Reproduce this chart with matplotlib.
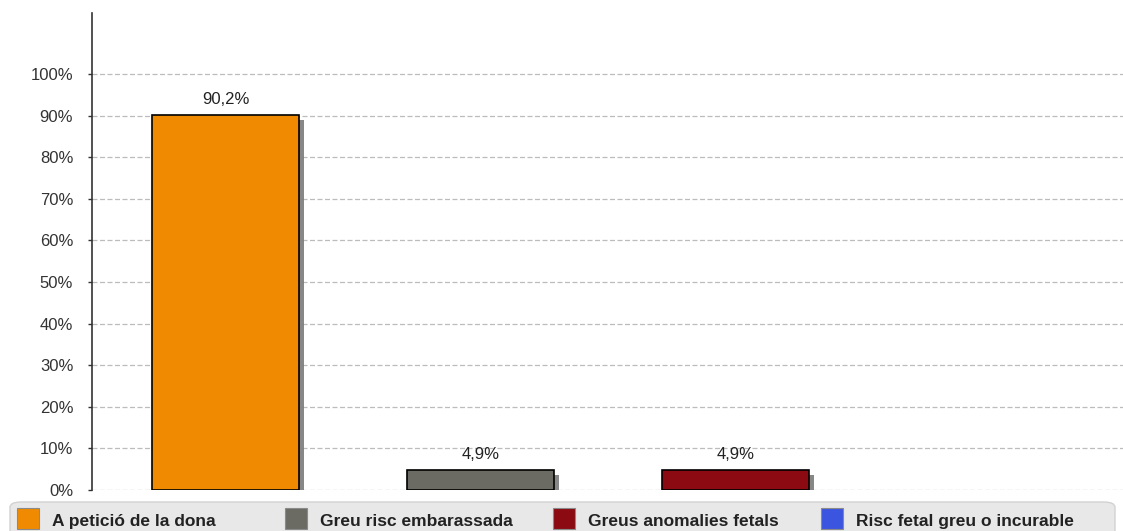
import matplotlib
matplotlib.use("Agg")
import matplotlib.pyplot as plt
import matplotlib.patheffects as pe
from matplotlib.patches import FancyBboxPatch, Rectangle
from matplotlib.ticker import FuncFormatter

# data
categories = ["A petició de la dona", "Greu risc embarassada",
              "Greus anomalies fetals", "Risc fetal greu o incurable"]
values = [90.2, 4.9, 4.9, 0.0]
value_labels = ["90,2%", "4,9%", "4,9%", ""]
colors = ["#F08A00", "#6B6B64", "#8C0A12", "#3B55E0"]
yticks = list(range(0, 101, 10))

plt.rcParams['font.family'] = ['Liberation Sans', 'DejaVu Sans']

W, H = 1123, 531
fig = plt.figure(figsize=(W / 100, H / 100), dpi=100)
ax = fig.add_axes([92 / W, 1 - 490 / H, 1 - 92 / W, (490 - 13) / H])

x = list(range(len(categories)))
shadow = [pe.SimplePatchShadow(offset=(3.6, -3.6), shadow_rgbFace="#7a7a7a", alpha=0.9, rho=1), pe.Normal()]
for xi, v, c, lab in zip(x, values, colors, value_labels):
    if v <= 0:
        continue
    b = ax.bar(xi, v, width=0.576, color=c, edgecolor="black", linewidth=1.2, zorder=3)
    b[0].set_path_effects(shadow)
    ax.text(xi, v + 1.9, lab, ha="center", va="bottom", fontsize=12, color="#222222")

ax.set_xlim(-0.5235, 3.52)
ax.set_ylim(0, 114.7)
ax.set_yticks(yticks)
ax.yaxis.set_major_formatter(FuncFormatter(lambda v, p: f"{v:.0f}%"))
ax.set_xticks([])
ax.tick_params(axis="y", length=3, width=1, color="#333333", labelsize=12,
               labelcolor="#333333", pad=10.5)
ax.grid(axis="y", linestyle=(0, (4, 2)), color="#bcbcbc", linewidth=0.9, zorder=0)
for s in ["top", "right", "bottom"]:
    ax.spines[s].set_visible(False)
ax.spines["left"].set_color("#333333")
ax.spines["left"].set_linewidth(1.2)

# legend strip at the bottom
box = FancyBboxPatch((10 / W, -10 / H), 1105 / W, (531 - 502 + 10) / H,
                     boxstyle="round,pad=0,rounding_size=0.01",
                     transform=fig.transFigure, facecolor="#e8e8e8",
                     edgecolor="#d2d2d2", linewidth=1)
fig.patches.append(box)
for i, (lab, c) in enumerate(zip(categories, colors)):
    x0 = 17 + i * 268
    fig.patches.append(Rectangle((x0 / W, 1 - 529 / H), 22 / W, 21 / H,
                                 transform=fig.transFigure, facecolor=c,
                                 edgecolor="#8a8a8a", linewidth=0.8))
    fig.text((x0 + 35) / W, 1 - 526 / H, lab, ha="left", va="baseline",
             fontsize=12.5, fontweight="bold", color="#222222")

fig.savefig("out.png", dpi=100)
